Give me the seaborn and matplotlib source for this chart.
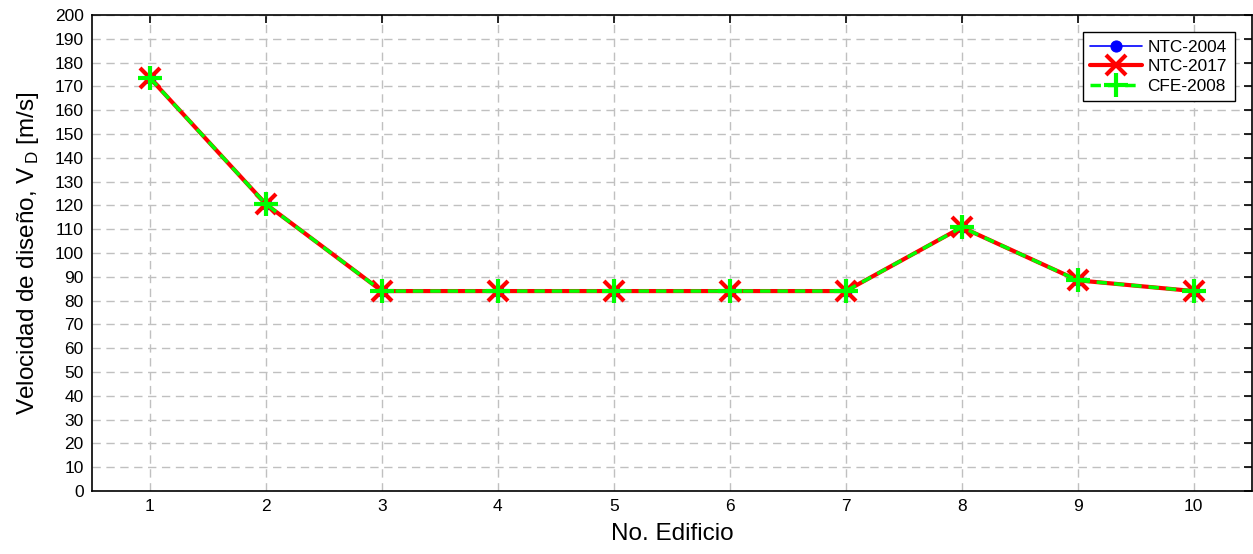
import pandas as pd
import matplotlib
matplotlib.use("Agg")
import matplotlib.pyplot as plt
import seaborn as sns

# values
edificio = [1, 2, 3, 4, 5, 6, 7, 8, 9, 10]
ntc_2004 = [173.5, 120.5, 84.0, 84.0, 84.0, 84.0, 84.0, 110.8, 88.5, 84.0]
ntc_2017 = [173.5, 120.5, 84.0, 84.0, 84.0, 84.0, 84.0, 110.8, 88.5, 84.0]
cfe_2008 = [173.5, 120.5, 84.0, 84.0, 84.0, 84.0, 84.0, 110.8, 88.5, 84.0]

sns.set_style("white")
plt.rcParams["font.family"] = ["Liberation Sans", "DejaVu Sans"]
plt.rcParams["text.color"] = "black"
plt.rcParams["axes.labelcolor"] = "black"

df = pd.DataFrame({"edificio": edificio, "NTC-2004": ntc_2004,
                   "NTC-2017": ntc_2017, "CFE-2008": cfe_2008})

fig = plt.figure(figsize=(12.53, 5.54), dpi=100)
ax = fig.add_axes([0.0734, 0.1137, 0.9256, 0.8593])

sns.lineplot(data=df, x="edificio", y="NTC-2004", ax=ax, color="blue", lw=1.2,
             marker="o", markersize=8, markeredgecolor="blue", markerfacecolor="blue",
             label="NTC-2004")
sns.lineplot(data=df, x="edificio", y="NTC-2017", ax=ax, color="red", lw=3,
             marker="x", markersize=14, markeredgewidth=3, markeredgecolor="red",
             label="NTC-2017")
sns.lineplot(data=df, x="edificio", y="CFE-2008", ax=ax, color="#00ff00", lw=2.5,
             linestyle=(0, (3, 2)), marker="+", markersize=17, markeredgewidth=3,
             markeredgecolor="#00ff00", label="CFE-2008")

ax.set_xlim(0.5, 10.5)
ax.set_ylim(0, 200)
ax.set_xticks(edificio)
ax.set_yticks(range(0, 201, 10))
ax.grid(True, color="#c0c0c0", linestyle=(0, (6, 4)), lw=1)
ax.tick_params(axis="both", direction="in", length=6, width=1.2, labelsize=12.5,
               top=True, right=True, colors="black", pad=6)
for s in ax.spines.values():
    s.set_visible(True)
    s.set_color("black")
    s.set_linewidth(1.2)

ax.set_xlabel("No. Edificio", fontsize=17.5, labelpad=6)
ax.set_ylabel(r"Velocidad de diseño, V$_{\,\mathregular{D}}$ [m/s]", fontsize=17.5,
              labelpad=10)

leg = ax.legend(loc="upper right", fontsize=12.4, frameon=True, fancybox=False,
                handlelength=3.0, borderpad=0.45, labelspacing=0.25,
                handletextpad=0.3, borderaxespad=1.0)
leg.get_frame().set_edgecolor("black")
leg.get_frame().set_linewidth(1)
leg.get_frame().set_alpha(1)

fig.savefig("out.png", dpi=100)
